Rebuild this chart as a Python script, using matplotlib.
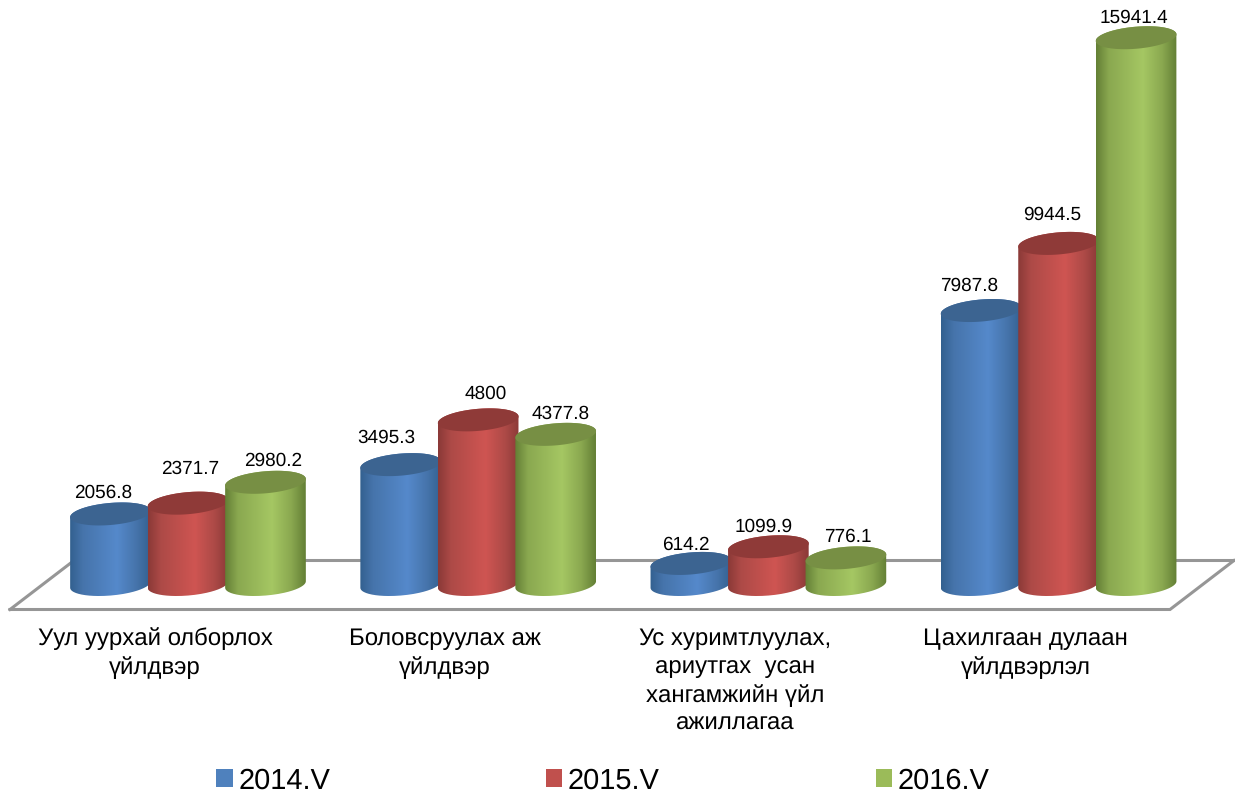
import numpy as np
import matplotlib
matplotlib.use("Agg")
import matplotlib.pyplot as plt
from matplotlib.path import Path
from matplotlib.patches import PathPatch, Patch, Polygon
from matplotlib.colors import LinearSegmentedColormap

plt.rcParams['font.family'] = ['Liberation Sans', 'DejaVu Sans']
plt.rcParams['text.hinting'] = 'none'
plt.rcParams['text.hinting_factor'] = 1

categories = ["Уул уурхай олборлох\nүйлдвэр", "Боловсруулах аж\nүйлдвэр",
              "Ус хуримтлуулах,\nариутгах  усан\nхангамжийн үйл\nажиллагаа",
              "Цахилгаан дулаан\nүйлдвэрлэл"]
series_names = ["2014.V", "2015.V", "2016.V"]
values_2014 = [2056.8, 3495.3, 614.2, 7987.8]
values_2015 = [2371.7, 4800, 1099.9, 9944.5]
values_2016 = [2980.2, 4377.8, 776.1, 15941.4]
label_texts_2014 = ["2056.8", "3495.3", "614.2", "7987.8"]
label_texts_2015 = ["2371.7", "4800", "1099.9", "9944.5"]
label_texts_2016 = ["2980.2", "4377.8", "776.1", "15941.4"]

# style: (face shades) dark edge, mid, bright, top-cap
palette = [("#33608f", "#4674ab", "#5589cb", "#3c6491"),
           ("#8a3937", "#ad4a47", "#cf5552", "#8f3a38"),
           ("#637f35", "#8aa850", "#a5c763", "#778f44")]
legend_colors = ["#4f81bd", "#c0504d", "#9bbb59"]

W, H = 1235, 794
PXX = 290.2          # px per category
PXY = 0.0343         # px per data unit
X0, Y0 = 188, 584.5  # pixel of category 0 centre / value 0
STEP = 77.5
A, B, TILT = 40.5, 11, np.radians(5)

fig = plt.figure(figsize=(W / 100, H / 100), dpi=100)
ax = fig.add_axes([0, 0, 1, 1])
ax.axis("off")
xlim = (-X0 / PXX, (W - X0) / PXX)
ylim = ((Y0 - H) / PXY, Y0 / PXY)

def dx(px): return px / PXX
def dy(px): return px / PXY

# Floor frame of the 3D chart
floor_color = "#969696"
fy_front, fy_back = dy(-25), dy(24)
ax.plot([dx(10 - X0), dx(1170 - X0), dx(1234 - X0)], [fy_front, fy_front, fy_back],
        color=floor_color, lw=2.2, solid_joinstyle="miter", zorder=1)
ax.plot([dx(10 - X0), dx(74 - X0), dx(1234 - X0)], [fy_front, fy_back, fy_back],
        color=floor_color, lw=2.2, solid_joinstyle="miter", zorder=1)

def ell(cx, cy, t):
    ex = A * np.cos(t) * np.cos(TILT) - B * np.sin(t) * np.sin(TILT)
    ey = A * np.cos(t) * np.sin(TILT) + B * np.sin(t) * np.cos(TILT)
    return cx + dx(ex), cy + dy(ey)

z = 2
all_vals = [values_2014, values_2015, values_2016]
all_txt = [label_texts_2014, label_texts_2015, label_texts_2016]
label_shift = [[(-7, 12), (2, 25), (8, 13)],
               [(-14, 18), (7, 17), (5, 12)],
               [(-5, 10), (-5, 11), (2, 12)],
               [(-12, 16), (-6, 20), (-2, 11)]]

for g in range(4):
    for s in range(3):
        v = all_vals[s][g]
        cx = g + dx((s - 1) * STEP)
        dark, mid, bright, cap = palette[s]
        cmap = LinearSegmentedColormap.from_list(
            "c", [(0, dark), (0.16, mid), (0.58, bright), (0.82, mid), (1, dark)])
        # body outline: lower half of the base ellipse + upper half of the top ellipse
        t_low = np.linspace(np.pi, 2 * np.pi, 80)
        xb, yb = ell(cx, 0, t_low)
        t_up = np.linspace(0, np.pi, 80)
        xt, yt = ell(cx, v, t_up)
        px = np.r_[xb, xt]
        py = np.r_[yb, yt]
        body = Path(np.c_[px, py])
        im = ax.imshow(np.linspace(0, 1, 256).reshape(1, -1), cmap=cmap, aspect="auto",
                       extent=(cx - dx(A), cx + dx(A), ylim[0], ylim[1]),
                       interpolation="bilinear", zorder=z)
        clip = PathPatch(body, transform=ax.transData, fc="none", ec="none")
        ax.add_patch(clip)
        im.set_clip_path(clip)
        t = np.linspace(0, 2 * np.pi, 160)
        xc, yc = ell(cx, v, t)
        ax.add_patch(Polygon(np.c_[xc, yc], closed=True, fc=cap, ec="none", zorder=z + 0.5))
        z += 1
        ox, oy = label_shift[g][s]
        ax.annotate(all_txt[s][g], (cx, v), xytext=(ox * 0.72, oy * 0.72), textcoords="offset points",
                    ha="center", va="bottom", fontsize=13.6, color="black", zorder=50)

ax.set_xlim(*xlim)
ax.set_ylim(*ylim)

for g, c in enumerate(categories):
    ax.text(g - dx(33), dy(-43), c, ha="center", va="top", fontsize=17.4, linespacing=1.33, color="black")

handles = [Patch(fc=c, ec="none") for c in legend_colors]
ax.legend(handles, series_names, ncol=3, loc="center", bbox_to_anchor=(603 / W, 1 - 781 / H),
          frameon=False, fontsize=21, handlelength=0.55, handleheight=0.55, handletextpad=0.2,
          columnspacing=7.4, borderpad=0, borderaxespad=0)

fig.savefig("out.png", dpi=100)
